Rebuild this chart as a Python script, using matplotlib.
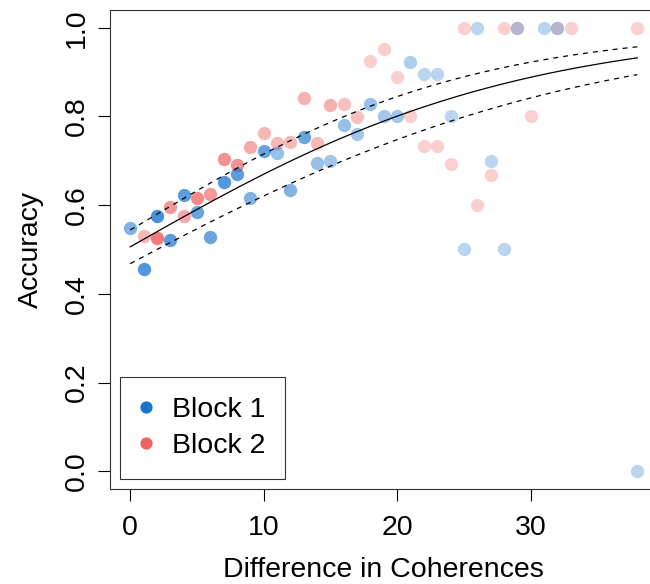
import numpy as np
import matplotlib
matplotlib.use("Agg")
import matplotlib.pyplot as plt
from matplotlib.lines import Line2D

plt.rcParams['font.family'] = ['Liberation Sans', 'DejaVu Sans']

# Block 1 (blue)
b1_x = [0, 1, 2, 3, 4, 5, 6, 7, 8, 9, 10, 11, 12, 13, 14, 15, 16, 17, 18, 19,
        20, 21, 22, 23, 24, 25, 26, 27, 28, 29, 31, 32, 38]
b1_acc = [0.548, 0.455, 0.576, 0.521, 0.623, 0.585, 0.529, 0.652, 0.670, 0.616,
          0.722, 0.717, 0.633, 0.753, 0.696, 0.700, 0.781, 0.761, 0.828, 0.802,
          0.802, 0.922, 0.896, 0.896, 0.802, 0.500, 1.0, 0.700, 0.500, 1.0,
          1.0, 1.0, 0.0]
b1_alpha = [0.55, 0.75, 0.8, 0.7, 0.7, 0.65, 0.65, 0.75, 0.7, 0.55,
            0.65, 0.45, 0.55, 0.65, 0.45, 0.4, 0.45, 0.4, 0.45, 0.4,
            0.4, 0.35, 0.3, 0.3, 0.3, 0.3, 0.3, 0.3, 0.3, 0.3,
            0.3, 0.3, 0.3]

# Block 2 (red)
b2_x = [1, 2, 3, 4, 5, 6, 7, 8, 9, 10, 11, 12, 13, 14, 15, 16, 17, 18, 19, 20,
        21, 22, 23, 24, 25, 26, 27, 28, 29, 30, 32, 33, 38]
b2_acc = [0.530, 0.527, 0.595, 0.576, 0.616, 0.625, 0.704, 0.691, 0.730, 0.762,
          0.740, 0.743, 0.841, 0.740, 0.826, 0.828, 0.798, 0.924, 0.952, 0.890,
          0.802, 0.734, 0.734, 0.693, 1.0, 0.600, 0.668, 1.0, 1.0, 0.802,
          1.0, 1.0, 1.0]
b2_alpha = [0.45, 0.85, 0.65, 0.55, 0.75, 0.65, 0.7, 0.7, 0.55, 0.45,
            0.45, 0.45, 0.5, 0.45, 0.5, 0.4, 0.4, 0.3, 0.3, 0.3,
            0.3, 0.3, 0.3, 0.3, 0.3, 0.3, 0.3, 0.3, 0.3, 0.3,
            0.3, 0.3, 0.3]

# logistic fit (logit scale) and its variance terms
fit_b0, fit_b1 = 0.024, 0.0683
var_a, var_b, var_c = 0.00602, 0.000145, 3.044e-5

blue = "#1874CD"
red = "#EE6363"

fig = plt.figure(figsize=(6.5, 5.84), dpi=100)
ax = fig.add_axes([0.1692, 0.1627, 0.8425, 0.8202])

for xs, ys, al, col in [(b2_x, b2_acc, b2_alpha, red), (b1_x, b1_acc, b1_alpha, blue)]:
    for xi, yi, ai in zip(xs, ys, al):
        ax.plot(xi, yi, 'o', color=col, alpha=ai, markersize=9.6,
                markeredgewidth=0, zorder=2)

xx = np.linspace(0, 38, 200)
eta = fit_b0 + fit_b1 * xx
se = np.sqrt(var_a + 2 * var_b * xx + var_c * xx ** 2)
inv = lambda z: 1 / (1 + np.exp(-z))
ax.plot(xx, inv(eta), color='black', lw=0.9, zorder=3)
ax.plot(xx, inv(eta + 1.96 * se), color='black', lw=0.9, ls=(0, (4, 4)), zorder=3)
ax.plot(xx, inv(eta - 1.96 * se), color='black', lw=0.9, ls=(0, (4, 4)), zorder=3)

ax.set_xlim(-1.52, 39.52)
ax.set_ylim(-0.04, 1.04)
ax.set_xticks([0, 10, 20, 30])
ax.set_yticks([0.0, 0.2, 0.4, 0.6, 0.8, 1.0])
ax.set_yticklabels(["0.0", "0.2", "0.4", "0.6", "0.8", "1.0"], rotation=90, va='center')
ax.tick_params(axis='both', labelsize=20.5, length=8.6, width=0.8, direction='out')
ax.tick_params(axis='x', pad=10)
ax.tick_params(axis='y', pad=6)
for s in ax.spines.values():
    s.set_linewidth(0.8)
    s.set_color('#333333')

ax.set_xlabel("Difference in Coherences", fontsize=20.5, labelpad=12)
ax.set_ylabel("Accuracy", fontsize=20.5, labelpad=14)

handles = [Line2D([], [], marker='o', ls='', color=blue, markersize=7.8),
           Line2D([], [], marker='o', ls='', color=red, markersize=7.8)]
leg = ax.legend(handles, ["Block 1", "Block 2"], loc='lower left',
                bbox_to_anchor=(0.0183, 0.0209), fontsize=20.5, frameon=True,
                fancybox=False, edgecolor='black', borderpad=0.7,
                handletextpad=0.72, handlelength=0.4, labelspacing=0.36,
                borderaxespad=0)
leg.get_frame().set_linewidth(0.8)

fig.savefig("out.png", dpi=100)
